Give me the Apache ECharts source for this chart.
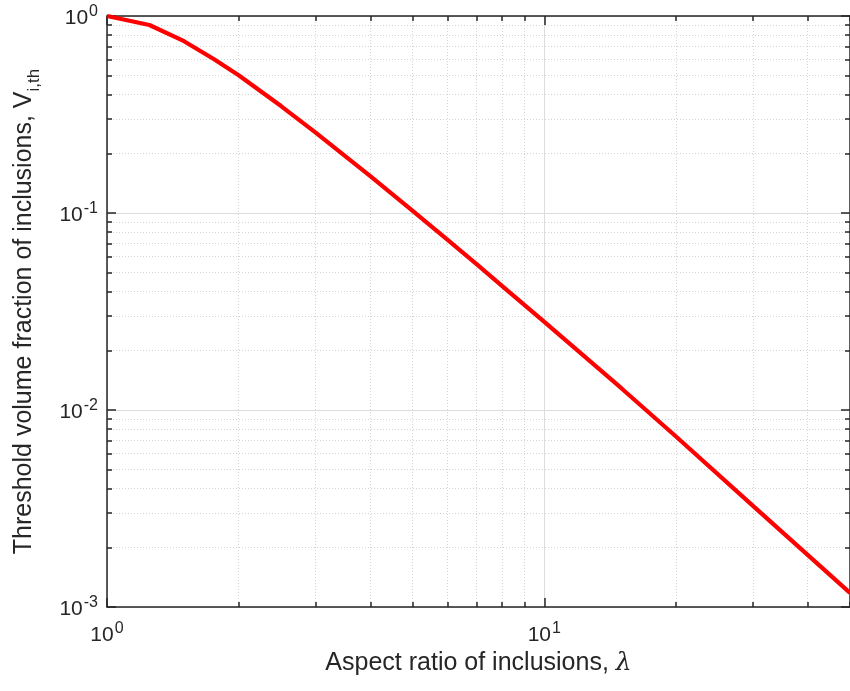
<!DOCTYPE html>
<html>
<head>
<meta charset="utf-8">
<script src="https://cdn.jsdelivr.net/npm/echarts@6/dist/echarts.min.js"></script>
<style>
html,body{margin:0;padding:0;background:#fff;}
#chart{width:850px;height:691px;}
</style>
</head>
<body>
<div id="chart"></div>
<script>
// Aspect ratio of inclusions (lambda)
const lambdaValues = [1, 1.25, 1.5, 1.75, 2, 2.5, 3, 4, 5, 6, 7, 8, 10, 15, 20, 30, 40, 50];
// Threshold volume fraction V_i,th
const vThreshold = [1, 0.90, 0.745, 0.607, 0.50, 0.349, 0.256, 0.154, 0.1026, 0.0732, 0.0550, 0.0427, 0.0280, 0.0129, 0.00734, 0.00326, 0.00184, 0.00118];

const xMajorTicks = [1, 10];
const xMinorTicks = [2, 3, 4, 5, 6, 7, 8, 9, 20, 30, 40, 50];
const yMajorTicks = [0.001, 0.01, 0.1, 1];
const yMinorTicks = [0.002, 0.003, 0.004, 0.005, 0.006, 0.007, 0.008, 0.009,
                     0.02, 0.03, 0.04, 0.05, 0.06, 0.07, 0.08, 0.09,
                     0.2, 0.3, 0.4, 0.5, 0.6, 0.7, 0.8, 0.9];

const xName = 'Aspect ratio of inclusions, ';
const yName = 'Threshold volume fraction of inclusions, V';

const FONT = 'Liberation Sans, Arial, Helvetica, sans-serif';
const AX = '#262626';

const data = lambdaValues.map((x, i) => [x, vThreshold[i]]);

function powLabel(v) {
  const e = Math.round(Math.log10(v));
  return '{b|10}{s|' + e + '}';
}
const richPow = {
  b: {fontSize: 21, color: AX, fontFamily: FONT, padding: [4, 0, 0, 0]},
  s: {fontSize: 16, color: AX, fontFamily: FONT, verticalAlign: 'top', padding: [0, 0, 0, 1]}
};

function makeAxis(kind, pos, major, opts) {
  const isX = kind === 'x';
  const base = {
    type: 'log', logBase: 10, position: pos,
    min: isX ? 1 : 0.001, max: isX ? 50 : 1,
    axisLine: {show: !!opts.line, onZero: false, lineStyle: {color: AX, width: 1.5}},
    axisTick: {show: true, inside: true, length: major ? 9 : 5,
               customValues: opts.ticks, lineStyle: {color: AX, width: 1.5}},
    axisLabel: {show: false},
    splitLine: {show: false},
    minorTick: {show: false}, minorSplitLine: {show: false}
  };
  if (opts.labels) {
    base.axisLabel = {show: true, customValues: opts.ticks, formatter: powLabel,
                      rich: richPow, margin: isX ? 14 : 9, color: AX, fontFamily: FONT};
  }
  if (opts.split) {
    base.splitLine = {show: true, lineStyle: opts.split};
  }
  return base;
}

const majorGrid = {color: '#dddddd', width: 1, type: 'solid'};
const minorGrid = {color: '#d4d4d4', width: 1, type: [1, 2]};

const xAxes = [
  makeAxis('x', 'bottom', true, {line: true, ticks: xMajorTicks, labels: true, split: majorGrid}),
  makeAxis('x', 'bottom', false, {line: false, ticks: xMinorTicks, split: minorGrid}),
  makeAxis('x', 'top', true, {line: true, ticks: xMajorTicks}),
  makeAxis('x', 'top', false, {line: false, ticks: xMinorTicks})
];
xAxes[0].name = '{n|' + xName + '}{l|λ}';
xAxes[0].nameLocation = 'middle';
xAxes[0].nameGap = 44;
xAxes[0].nameTextStyle = {
  rich: {
    n: {fontSize: 25, color: AX, fontFamily: FONT},
    l: {fontSize: 25, color: AX, fontFamily: 'DejaVu Serif, serif', fontStyle: 'italic'}
  }
};

const yAxes = [
  makeAxis('y', 'left', true, {line: true, ticks: yMajorTicks, labels: true, split: majorGrid}),
  makeAxis('y', 'left', false, {line: false, ticks: yMinorTicks, split: minorGrid}),
  makeAxis('y', 'right', true, {line: true, ticks: yMajorTicks}),
  makeAxis('y', 'right', false, {line: false, ticks: yMinorTicks})
];
yAxes[0].name = '{n|' + yName + '}{sub|i,th}';
yAxes[0].nameLocation = 'middle';
yAxes[0].nameGap = 70;
yAxes[0].nameTextStyle = {
  rich: {
    n: {fontSize: 25, color: AX, fontFamily: FONT},
    sub: {fontSize: 17, color: AX, fontFamily: FONT, verticalAlign: 'bottom', padding: [0, 0, -6, 0]}
  }
};

const chart = echarts.init(document.getElementById('chart'), null, {renderer: 'canvas'});
chart.setOption({
  animation: false,
  backgroundColor: '#ffffff',
  grid: {left: 107, top: 16, right: -5, bottom: 84, containLabel: false},
  xAxis: xAxes,
  yAxis: yAxes,
  series: [{
    type: 'line',
    data: data,
    xAxisIndex: 0, yAxisIndex: 0,
    showSymbol: false,
    symbol: 'none',
    smooth: false,
    clip: true,
    lineStyle: {color: '#ff0000', width: 4.2},
    z: 10
  }]
});
</script>
</body>
</html>
